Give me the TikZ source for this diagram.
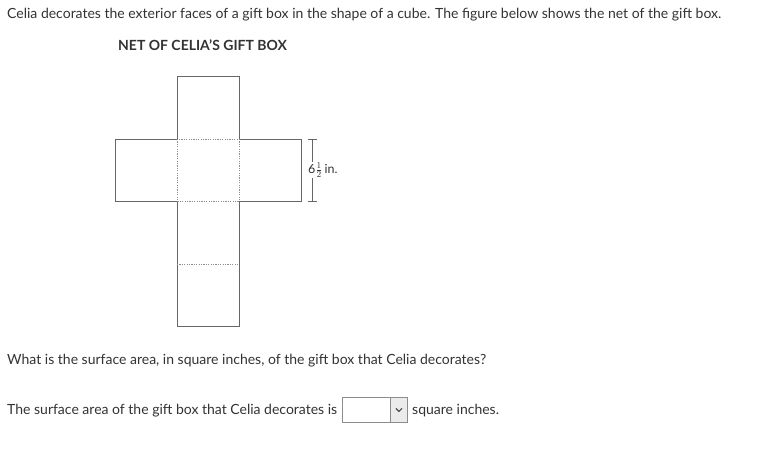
\documentclass[tikz,border=0pt]{standalone}
\usepackage{fontspec}
\setmainfont{Lato}
\begin{document}
\begin{tikzpicture}[x=1pt,y=-1pt,
  txt/.style={anchor=base west,inner sep=0pt,text=black!80,font=\fontsize{14}{16}\selectfont},
  face/.style={draw=black!60,line width=0.9pt},
  fold/.style={draw=black!45,line width=0.8pt,dash pattern=on 1.2pt off 1.2pt},
  dim/.style={draw=black!60,line width=0.8pt}]
\useasboundingbox[fill=white] (0,0) rectangle (772,454);
\node[txt] (t1) at (7,19) {Celia decorates the exterior faces of a gift box in the shape of a cube. The figure below shows the net of the gift box.};
\node[txt,font=\bfseries\fontsize{14}{16}\selectfont] (t2) at (118,51) {NET OF CELIA'S GIFT BOX};
% net
\path[face] (177,76) -- (239,76) -- (239,139) -- (301,139) -- (301,201) -- (239,201) -- (239,326) -- (177,326) -- (177,201) -- (115,201) -- (115,139) -- (177,139) -- cycle;
\draw[fold] (177,139) rectangle (239,201);
\draw[fold] (177,264) -- (239,264);
% dimension
\coordinate (d1) at (312,139);
\coordinate (d2) at (312,201);
\draw[dim] (d1) -- (d2);
\draw[dim] ([xshift=-4.5]d1) -- ([xshift=4.5]d1);
\draw[dim] ([xshift=-4.5]d2) -- ([xshift=4.5]d2);
\node[anchor=west,inner sep=0.5pt,fill=white,text=black!80,font=\fontsize{12.5}{13}\selectfont] (lab) at (307.5,170) {6$\frac{1}{2}$\,in.};
\node[txt] (t3) at (7,365) {What is the surface area, in square inches, of the gift box that Celia decorates?};
\node[txt] (t4) at (7,415) {The surface area of the gift box that Celia decorates is};
% dropdown
\node[draw=black!45,line width=0.8pt,minimum width=65,minimum height=25,inner sep=0pt,anchor=north west] (box) at (342,397) {};
\node[draw=black!45,fill=black!8,line width=0.8pt,minimum width=17,minimum height=25,inner sep=0pt,anchor=north east] (btn) at (box.north east) {};
\draw[black!70,line width=1.1pt] ([shift={(-3,-1.5)}]btn.center) -- ([shift={(0,1.5)}]btn.center) -- ([shift={(3,-1.5)}]btn.center);
\node[txt] (t5) at (412,415) {square inches.};
\end{tikzpicture}
\end{document}
